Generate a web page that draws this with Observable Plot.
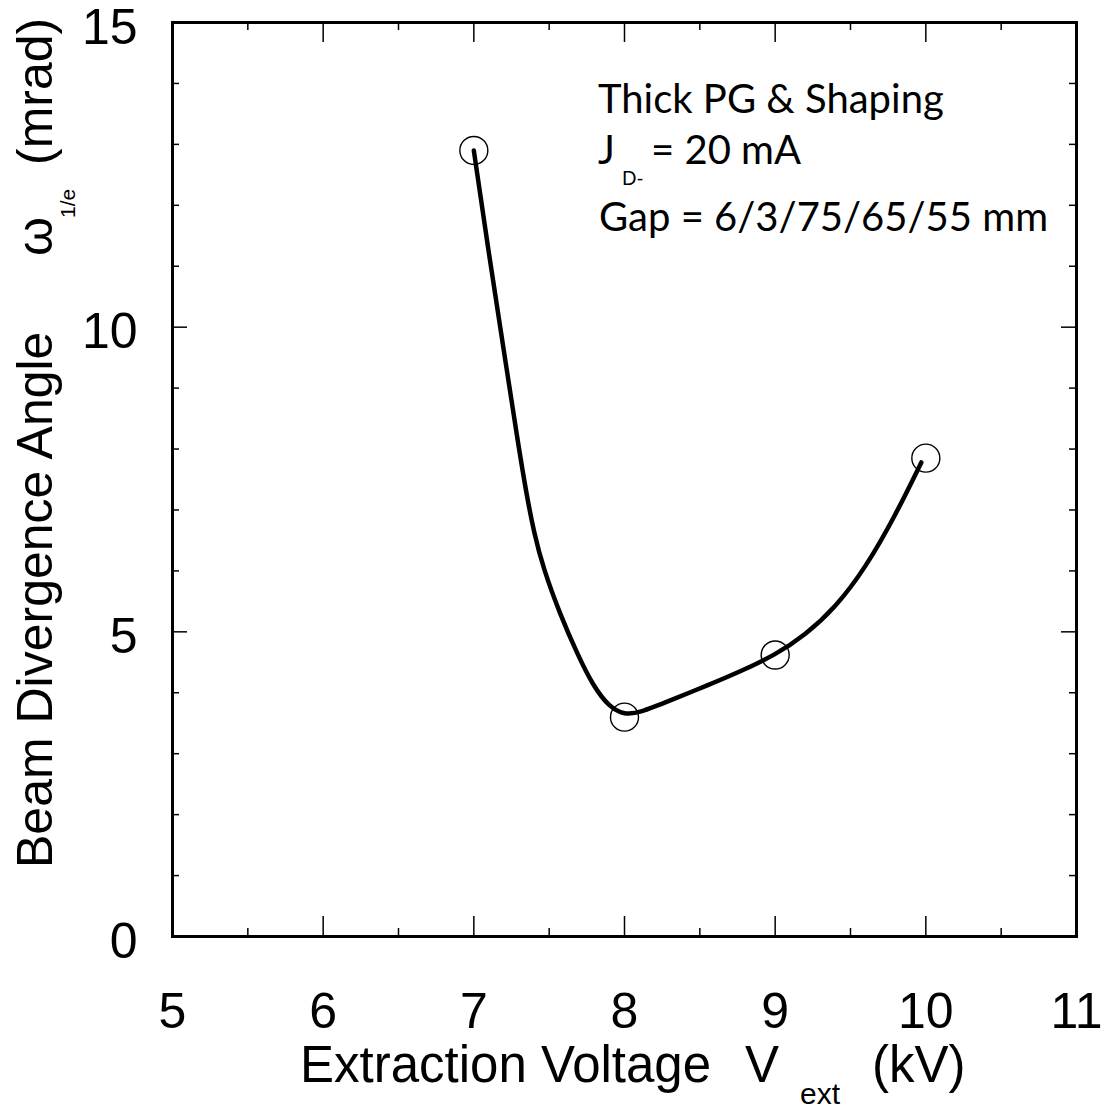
<!DOCTYPE html>
<html><head><meta charset="utf-8">
<script src="https://cdn.jsdelivr.net/npm/d3@7"></script>
<script src="https://cdn.jsdelivr.net/npm/@observablehq/plot@0.6"></script>
<style>html,body{margin:0;padding:0;background:#fff} svg{display:block}</style>
</head><body><div id="chart"></div>
<script>
// measured points (extraction voltage kV, divergence angle mrad)
const voltage = [7, 8, 9, 10];
const divergence = [12.9, 3.6, 4.62, 7.85];
// hand-drawn fit curve
const curveV = [7.00, 7.10, 7.20, 7.29, 7.35, 7.40, 7.46, 7.57, 7.69, 7.79, 7.90, 8.00, 8.10, 8.30, 8.55, 8.77, 9.00, 9.20, 9.40, 9.60, 9.80, 9.97];
const curveW = [12.9, 11.2, 9.6, 8.15, 7.25, 6.62, 6.05, 5.30, 4.62, 4.12, 3.76, 3.64, 3.67, 3.87, 4.12, 4.35, 4.62, 4.95, 5.40, 6.05, 6.92, 7.78];
// tick values
const xMajor = [5, 6, 7, 8, 9, 10, 11];
const xMinor = [5.5, 6.5, 7.5, 8.5, 9.5, 10.5];
const yMajor = [0, 5, 10, 15];
const yMinor = [1, 2, 3, 4, 6, 7, 8, 9, 11, 12, 13, 14];

const points = voltage.map((v, i) => ({v, w: divergence[i]}));
const curve = curveV.map((v, i) => ({v, w: curveW[i]}));

const W = 1112, H = 1108, mL = 172, mR = 36, mT = 22, mB = 172;
const pw = W - mL - mR, ph = H - mT - mB;
const FONT = "'Liberation Sans', Arial, Helvetica, sans-serif";

const plot = Plot.plot({
  width: W, height: H,
  marginLeft: mL, marginRight: mR, marginTop: mT, marginBottom: mB,
  x: {domain: [5, 11]},
  y: {domain: [0, 15]},
  style: {fontFamily: FONT, background: "#fff", color: "#000", overflow: "visible"},
  marks: [
    Plot.tickX(xMajor, {x: d => d, insetTop: ph - 20, stroke: "#000", strokeWidth: 1.5}),
    Plot.tickX(xMajor, {x: d => d, insetBottom: ph - 20, stroke: "#000", strokeWidth: 1.5}),
    Plot.tickX(xMinor, {x: d => d, insetTop: ph - 8, stroke: "#000", strokeWidth: 1.5}),
    Plot.tickX(xMinor, {x: d => d, insetBottom: ph - 8, stroke: "#000", strokeWidth: 1.5}),
    Plot.tickY(yMajor, {y: d => d, insetRight: pw - 15, stroke: "#000", strokeWidth: 1.5}),
    Plot.tickY(yMajor, {y: d => d, insetLeft: pw - 15, stroke: "#000", strokeWidth: 1.5}),
    Plot.tickY(yMinor, {y: d => d, insetRight: pw - 7, stroke: "#000", strokeWidth: 1.5}),
    Plot.tickY(yMinor, {y: d => d, insetLeft: pw - 7, stroke: "#000", strokeWidth: 1.5}),
    Plot.frame({stroke: "#000", strokeWidth: 3}),
    Plot.axisX(xMajor, {tickSize: 0, tickPadding: 56, fontSize: 50, label: null, tickFormat: d => String(d)}),
    Plot.axisY(yMajor, {tickSize: 0, tickPadding: 35, fontSize: 50, label: null, dy: 5, tickFormat: d => String(d)}),
    Plot.line(curve, {x: "v", y: "w", curve: "basis", stroke: "#000", strokeWidth: 4.5}),
    Plot.dot(points, {x: "v", y: "w", r: 14, stroke: "#000", strokeWidth: 1.4, fill: "none"})
  ]
});

document.getElementById("chart").appendChild(plot);

const svg = d3.select(plot);
const g = svg.append("g").attr("fill", "#000").attr("font-family", FONT).attr("text-anchor", "start");
function txt(x, y, s, size, family, rotate) {
  const t = g.append("text")
    .attr("text-anchor", "start")
    .attr("transform", `translate(${x},${y})` + (rotate ? ` rotate(${rotate})` : ""))
    .attr("font-size", size)
    .text(s);
  if (family) t.attr("font-family", family);
  return t;
}
// y-axis title
txt(52, 868, "Beam Divergence Angle", 50, null, -90);
txt(52, 256, "ω", 50, null, -90);
txt(75, 218, "1/e", 21, null, -90);
txt(52, 165, "(mrad)", 50, null, -90);
// x-axis title
txt(300, 1082, "Extraction Voltage", 51);
txt(745, 1082, "V", 51);
txt(800, 1104, "ext", 30);
txt(872, 1082, "(kV)", 51);
// annotation
const ANN = "Lato, 'Open Sans', sans-serif";
txt(598, 113, "Thick PG & Shaping", 40, ANN);
txt(598, 164, "J", 40, ANN);
txt(622, 185, "D-", 19, ANN);
txt(651, 164, "= 20 mA", 40, ANN);
txt(599, 231, "Gap = 6/3/75/65/55 mm", 40, ANN);
</script>
</body></html>
